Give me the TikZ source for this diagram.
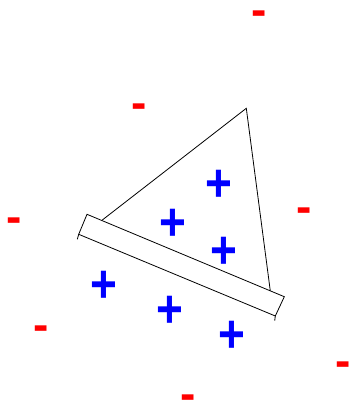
\documentclass[tikz,border=0pt]{standalone}
\usepackage{fontspec}
\setmainfont{Liberation Sans}
\begin{document}
\begin{tikzpicture}[x=1pt, y=-1pt,
    poscharge/.style={text=blue, font=\fontsize{46}{46}\selectfont\bfseries, inner sep=0pt, yshift=-4pt},
    negcharge/.style={text=red, font=\fontsize{46}{46}\selectfont\bfseries, inner sep=0pt}]
    \useasboundingbox (0,0) rectangle (351,405);

    % sail and boom
    \coordinate (apex) at (246.3,108.3);
    \coordinate (lft) at (102.3,220);
    \coordinate (rgt) at (270.3,291);
    \draw[line width=0.8pt] (lft) -- (apex) -- (rgt);
    \coordinate (b1) at (87,214.3);
    \coordinate (b2) at (284.3,296.7);
    \coordinate (b3) at (275.3,316);
    \coordinate (b4) at (78.7,234.3);
    \draw[line width=0.8pt, fill=white] (b1) -- (b2) -- (b3) -- (b4) -- cycle;
    \draw[line width=0.8pt] (b4) -- (77.3,239.3);
    \draw[line width=0.8pt] (b3) -- (274.7,320.7);

    % charges
    \node[poscharge] (p1) at (219,182) {\scalebox{1}[1.16]{+}};
    \node[poscharge] (p2) at (173,221) {\scalebox{1}[1.16]{+}};
    \node[poscharge] (p3) at (224,249) {\scalebox{1}[1.16]{+}};
    \node[poscharge] (p4) at (104.3,283) {\scalebox{1}[1.16]{+}};
    \node[poscharge] (p5) at (169.7,308) {\scalebox{1}[1.16]{+}};
    \node[poscharge] (p6) at (231.7,333) {\scalebox{1}[1.16]{+}};

    \node[negcharge] (n1) at (259.3,13.3) {\raisebox{-10pt}[4pt][0pt]{-}};
    \node[negcharge] (n2) at (139,106.3) {\raisebox{-10pt}[4pt][0pt]{-}};
    \node[negcharge] (n3) at (14.3,220) {\raisebox{-10pt}[4pt][0pt]{-}};
    \node[negcharge] (n4) at (303.7,210) {\raisebox{-10pt}[4pt][0pt]{-}};
    \node[negcharge] (n5) at (41.3,328) {\raisebox{-10pt}[4pt][0pt]{-}};
    \node[negcharge] (n6) at (343.3,364) {\raisebox{-10pt}[4pt][0pt]{-}};
    \node[negcharge] (n7) at (187.7,397) {\raisebox{-10pt}[4pt][0pt]{-}};
\end{tikzpicture}
\end{document}
